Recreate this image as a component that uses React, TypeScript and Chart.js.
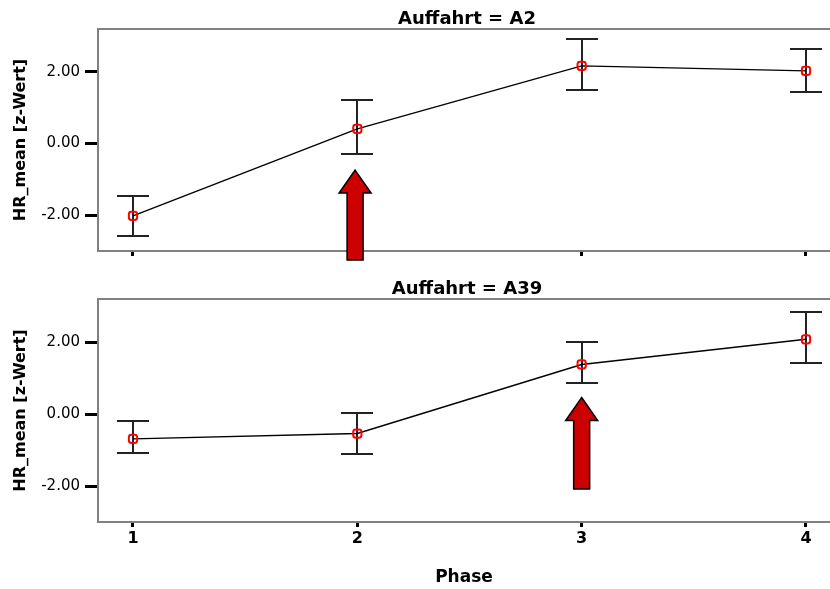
import React, { useEffect, useRef } from 'react';
import { Chart, registerables } from 'chart.js';

Chart.register(...registerables);

// ---- data ----
const phases = [1, 2, 3, 4];
const xTickValues = [1, 2, 3, 4];
const yTickValues = [-2, 0, 2];
const panelTitles = ['Auffahrt = A2', 'Auffahrt = A39'];
const yAxisTitle = 'HR_mean [z-Wert]';
const xAxisTitle = 'Phase';

const a2Mean = [-2.02, 0.41, 2.17, 2.03];
const a2Upper = [-1.46, 1.22, 2.92, 2.64];
const a2Lower = [-2.58, -0.29, 1.5, 1.44];

const a39Mean = [-0.69, -0.54, 1.38, 2.08];
const a39Upper = [-0.2, 0.02, 2.01, 2.83];
const a39Lower = [-1.07, -1.1, 0.86, 1.41];

// highlight arrows (one per panel), in data units
const arrowPhase = [1.99, 3];
const arrowTip = [-0.74, 0.46];
const arrowTail = [-3.25, -2.08];

const X_MIN = 0.844;
const X_MAX = 4.107;
const Y_MIN = -3;
const Y_MAX = 3.2;

const FONT = "'DejaVu Sans', Verdana, sans-serif";

function makeConfig(panel: number, means: number[], lower: number[], upper: number[], showX: boolean, xHeight: number) {
  const panelPlugin = {
    id: 'panelDecor' + panel,
    beforeDatasetsDraw(chart: any) {
      const { ctx, chartArea } = chart;
      const xs = chart.scales.x;
      const ys = chart.scales.y;
      ctx.save();
      // frame
      ctx.strokeStyle = '#808080';
      ctx.lineWidth = 2;
      ctx.beginPath();
      ctx.moveTo(chartArea.right + 2, chartArea.top);
      ctx.lineTo(chartArea.left, chartArea.top);
      ctx.lineTo(chartArea.left, chartArea.bottom);
      ctx.lineTo(chartArea.right + 2, chartArea.bottom);
      ctx.stroke();
      // error bars
      ctx.strokeStyle = '#222';
      ctx.lineWidth = 2;
      phases.forEach((p, i) => {
        const x = Math.round(xs.getPixelForValue(p));
        const yl = Math.round(ys.getPixelForValue(lower[i]));
        const yu = Math.round(ys.getPixelForValue(upper[i]));
        ctx.beginPath();
        ctx.moveTo(x, yu);
        ctx.lineTo(x, yl);
        ctx.moveTo(x - 16, yu);
        ctx.lineTo(x + 16, yu);
        ctx.moveTo(x - 16, yl);
        ctx.lineTo(x + 16, yl);
        ctx.stroke();
      });
      ctx.restore();
    },
    afterDraw(chart: any) {
      const { ctx, chartArea } = chart;
      const xs = chart.scales.x;
      const ys = chart.scales.y;
      ctx.save();
      // arrow
      const ax = xs.getPixelForValue(arrowPhase[panel]);
      const tip = ys.getPixelForValue(arrowTip[panel]);
      const tail = ys.getPixelForValue(arrowTail[panel]);
      const headH = 23;
      const headW = 16;
      const shaftW = 8;
      ctx.beginPath();
      ctx.moveTo(ax, tip);
      ctx.lineTo(ax + headW, tip + headH);
      ctx.lineTo(ax + shaftW, tip + headH);
      ctx.lineTo(ax + shaftW, tail);
      ctx.lineTo(ax - shaftW, tail);
      ctx.lineTo(ax - shaftW, tip + headH);
      ctx.lineTo(ax - headW, tip + headH);
      ctx.closePath();
      ctx.fillStyle = '#cc0000';
      ctx.fill();
      ctx.strokeStyle = '#000';
      ctx.lineWidth = 1.5;
      ctx.stroke();
      // panel title
      ctx.fillStyle = '#000';
      ctx.font = `bold 18px ${FONT}`;
      ctx.textAlign = 'center';
      ctx.textBaseline = 'alphabetic';
      ctx.fillText(panelTitles[panel], (chartArea.left + chartArea.right) / 2 + 3, 24);
      ctx.restore();
    },
  };

  return {
    type: 'line' as const,
    data: {
      datasets: [
        {
          data: phases.map((p, i) => ({ x: p, y: means[i] })),
          borderColor: '#000',
          borderWidth: 1.4,
          tension: 0,
          pointStyle: 'rectRounded',
          pointRadius: 4.8,
          pointBorderColor: '#ff0000',
          pointBackgroundColor: 'rgba(0,0,0,0)',
          pointBorderWidth: 2,
        },
      ],
    },
    options: {
      responsive: false,
      animation: false as const,
      devicePixelRatio: 1,
      layout: { autoPadding: false, padding: { top: 29, left: 0, right: 0, bottom: 0 } },
      plugins: {
        legend: { display: false },
        tooltip: { enabled: false },
        title: { display: false },
      },
      scales: {
        x: {
          type: 'linear' as const,
          min: X_MIN,
          max: X_MAX,
          afterBuildTicks: (s: any) => {
            s.ticks = xTickValues.map((v) => ({ value: v }));
          },
          afterFit: (s: any) => {
            s.height = xHeight;
            s.paddingLeft = 0;
            s.paddingRight = 0;
          },
          border: { display: false },
          grid: { drawOnChartArea: false, drawTicks: true, tickLength: 5, tickWidth: 3, tickColor: '#000' },
          ticks: {
            display: showX,
            autoSkip: false,
            maxRotation: 0,
            color: '#000',
            padding: 2,
            font: { family: FONT, size: 16, weight: 'bold' as const },
            callback: (v: any) => String(v),
          },
          title: {
            display: showX,
            text: xAxisTitle,
            color: '#000',
            font: { family: FONT, size: 17, weight: 'bold' as const },
            padding: { top: 0, bottom: 1 },
          },
        },
        y: {
          type: 'linear' as const,
          min: Y_MIN,
          max: Y_MAX,
          afterBuildTicks: (s: any) => {
            s.ticks = yTickValues.map((v) => ({ value: v }));
          },
          afterFit: (s: any) => {
            s.width = 98;
            s.paddingTop = 0;
            s.paddingBottom = 0;
          },
          border: { display: false },
          grid: { drawOnChartArea: false, drawTicks: true, tickLength: 13, tickWidth: 3, tickColor: '#000' },
          ticks: {
            color: '#000',
            padding: 5,
            font: { family: FONT, size: 15 },
            callback: (v: any) => Number(v).toFixed(2),
          },
          title: {
            display: true,
            text: yAxisTitle,
            color: '#000',
            font: { family: FONT, size: 16, weight: 'bold' as const },
            padding: { top: 11, bottom: 0 },
          },
        },
      },
    },
    plugins: [panelPlugin],
  };
}

export default function App() {
  const topRef = useRef<HTMLCanvasElement | null>(null);
  const botRef = useRef<HTMLCanvasElement | null>(null);

  useEffect(() => {
    const charts: Chart[] = [];
    if (topRef.current) {
      charts.push(new Chart(topRef.current, makeConfig(0, a2Mean, a2Lower, a2Upper, false, 19) as any));
    }
    if (botRef.current) {
      charts.push(new Chart(botRef.current, makeConfig(1, a39Mean, a39Lower, a39Upper, true, 67) as any));
    }
    return () => charts.forEach((c) => c.destroy());
  }, []);

  return (
    <div style={{ position: 'absolute', left: 0, top: 0, width: 830, height: 589, background: '#fff', overflow: 'hidden' }}>
      <canvas ref={topRef} width={830} height={270} style={{ position: 'absolute', left: 0, top: 0, width: 830, height: 270 }} />
      <canvas ref={botRef} width={830} height={319} style={{ position: 'absolute', left: 0, top: 270, width: 830, height: 319 }} />
    </div>
  );
}
